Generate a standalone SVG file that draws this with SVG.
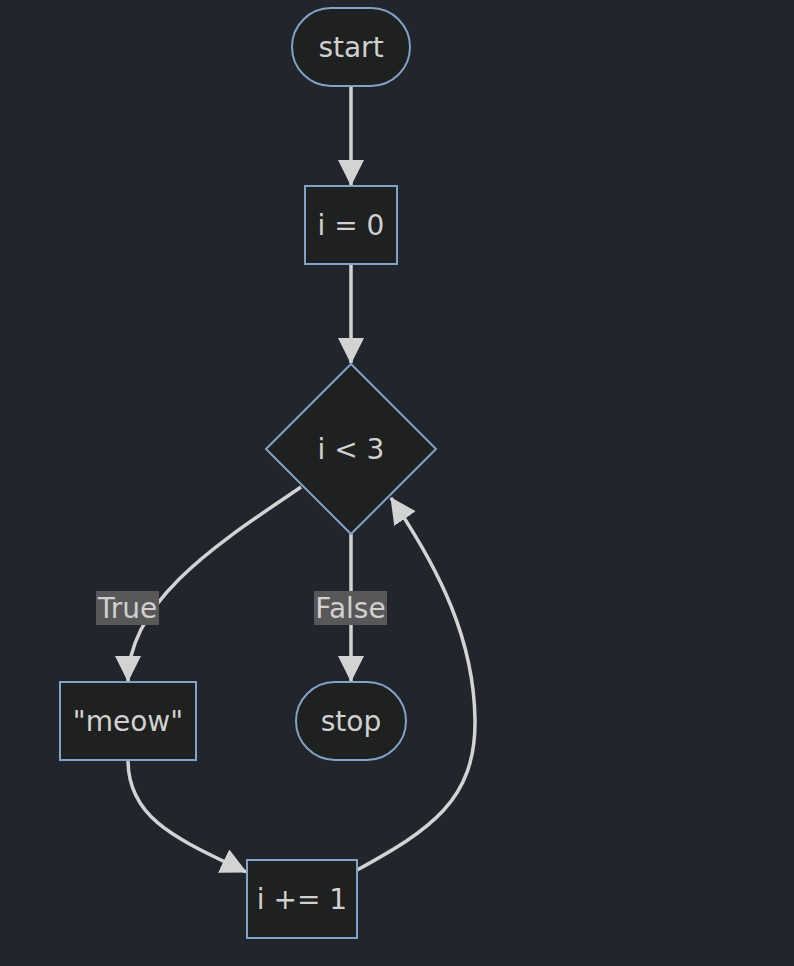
<svg xmlns="http://www.w3.org/2000/svg" width="794" height="966" viewBox="0 0 794 966">
<style>
.bg{fill:#22252b}
.node{fill:#1f2020;stroke:#81a2c9;stroke-width:2}
.edge{fill:none;stroke:#d3d3d3;stroke-width:3.5}
.t{font-family:"DejaVu Sans","Open Sans",sans-serif;font-size:28px;fill:#d0d0d0;text-anchor:middle;dominant-baseline:central}
.lbl{fill:#585858}
</style>
<defs>
<marker id="arr" markerUnits="userSpaceOnUse" markerWidth="26" markerHeight="26" viewBox="0 0 24 24" refX="23" refY="12" orient="auto">
<path d="M0,0 L24,12 L0,24 z" fill="#d3d3d3"/>
</marker>
</defs>
<rect class="bg" x="0" y="0" width="794" height="966"/>
<g id="edges">
<path class="edge" d="M351,86 L351,185" marker-end="url(#arr)"/>
<path class="edge" d="M351,264 L351,363" marker-end="url(#arr)"/>
<path class="edge" d="M301,487 C220,542 128,600 128,681" marker-end="url(#arr)"/>
<path class="edge" d="M351,534 L351,681" marker-end="url(#arr)"/>
<path class="edge" d="M128,760 C128,820 180,840 246,872" marker-end="url(#arr)"/>
<path class="edge" d="M357,870 C430,830 476,800 475,720 C474,640 440,570 391,498" marker-end="url(#arr)"/>
</g>
<g id="label-true">
<rect class="lbl" x="96" y="591" width="63" height="34"/>
<text class="t" x="127.5" y="608">True</text>
</g>
<g id="label-false">
<rect class="lbl" x="314" y="591" width="73" height="34"/>
<text class="t" x="350.5" y="608">False</text>
</g>
<g id="start">
<rect class="node" x="292" y="8" width="118" height="78" rx="39" ry="39"/>
<text class="t" x="351" y="47">start</text>
</g>
<g id="init">
<rect class="node" x="305" y="186" width="92" height="78"/>
<text class="t" x="351" y="225">i = 0</text>
</g>
<g id="cond">
<polygon class="node" points="351,364 436,449 351,534 266,449"/>
<text class="t" x="351" y="449">i &lt; 3</text>
</g>
<g id="meow">
<rect class="node" x="60" y="682" width="136" height="78"/>
<text class="t" x="128" y="721">"meow"</text>
</g>
<g id="stop">
<rect class="node" x="296" y="682" width="110" height="78" rx="39" ry="39"/>
<text class="t" x="351" y="721">stop</text>
</g>
<g id="incr">
<rect class="node" x="247" y="860" width="110" height="78"/>
<text class="t" x="302" y="899">i += 1</text>
</g>
</svg>
